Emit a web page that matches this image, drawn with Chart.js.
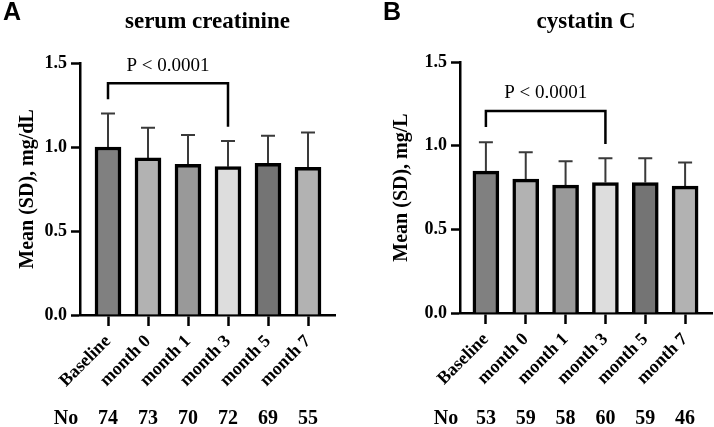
<!DOCTYPE html>
<html>
<head>
<meta charset="utf-8">
<script src="https://cdn.jsdelivr.net/npm/chart.js@4.4.0/dist/chart.umd.min.js"></script>
<style>
  body { margin: 0; background: #fff; }
  #wrap { position: relative; width: 714px; height: 427px; }
  canvas { position: absolute; top: 0; }
</style>
</head>
<body>
<div id="wrap">
  <canvas id="chartA" width="357" height="427" style="left:0"></canvas>
  <canvas id="chartB" width="357" height="427" style="left:357px"></canvas>
</div>
<script>
// --- data ---
const timepoints = ['Baseline', 'month 0', 'month 1', 'month 3', 'month 5', 'month 7'];
const barColors = ['#808080', '#b2b2b2', '#999999', '#dddddd', '#747474', '#b2b2b2'];

// serum creatinine, mg/dL
const creatMean = [1.00, 0.935, 0.897, 0.883, 0.903, 0.879];
const creatSD = [0.20, 0.18, 0.174, 0.153, 0.164, 0.208];
const creatN = [74, 73, 70, 72, 69, 55];

// cystatin C, mg/L
const cysMean = [0.848, 0.80, 0.764, 0.78, 0.78, 0.758];
const cysSD = [0.172, 0.16, 0.143, 0.145, 0.145, 0.142];
const cysN = [53, 59, 58, 60, 59, 46];

const yTicks = [0, 0.5, 1.0, 1.5];

const SERIF = '"Liberation Serif", "Times New Roman", serif';
const SANS = '"Liberation Sans", Arial, sans-serif';

// draws error bars, bracket, titles and the "No" row for one panel
function makeDecor(p) {
  return {
    id: 'decor' + p.letter,
    beforeDatasetsDraw(chart) {
      const { ctx, scales: { x, y } } = chart;
      ctx.save();
      ctx.strokeStyle = '#3a3a3a';
      ctx.lineWidth = 2;
      p.mean.forEach((m, i) => {
        const px = x.getPixelForValue(i);
        const y0 = y.getPixelForValue(m);
        const y1 = y.getPixelForValue(m + p.sd[i]);
        ctx.beginPath();
        ctx.moveTo(px, y0);
        ctx.lineTo(px, y1);
        ctx.moveTo(px - 7, y1);
        ctx.lineTo(px + 7, y1);
        ctx.stroke();
      });
      ctx.restore();
    },
    afterDraw(chart) {
      const { ctx, chartArea, scales: { x, y } } = chart;
      ctx.save();
      ctx.fillStyle = '#000';
      ctx.textBaseline = 'alphabetic';

      // panel letter + title
      ctx.textAlign = 'left';
      ctx.font = 'bold 25px ' + SANS;
      ctx.fillText(p.letter, chartArea.left - 77, 20);
      ctx.textAlign = 'center';
      ctx.font = 'bold 23px ' + SERIF;
      ctx.fillText(p.title, (chartArea.left + chartArea.right) / 2, 28);

      // significance bracket
      const b = p.bracket;
      const xa = x.getPixelForValue(b.from), xb = x.getPixelForValue(b.to);
      ctx.strokeStyle = '#000';
      ctx.lineWidth = 2.5;
      ctx.beginPath();
      ctx.moveTo(xa, y.getPixelForValue(b.leftEnd));
      ctx.lineTo(xa, y.getPixelForValue(b.top));
      ctx.lineTo(xb, y.getPixelForValue(b.top));
      ctx.lineTo(xb, y.getPixelForValue(b.rightEnd));
      ctx.stroke();
      ctx.font = '19px ' + SERIF;
      ctx.fillText(b.label, (xa + xb) / 2, y.getPixelForValue(b.labelY));

      // sample size row
      ctx.font = 'bold 20px ' + SERIF;
      const rowY = chart.height - 3;
      ctx.fillText('No', chartArea.left - 14, rowY);
      p.n.forEach((n, i) => ctx.fillText(String(n), x.getPixelForValue(i), rowY));
      ctx.restore();
    }
  };
}

function makePanel(id, p) {
  new Chart(document.getElementById(id), {
    type: 'bar',
    data: {
      datasets: [{
        data: p.mean.map((v, i) => ({ x: i, y: v })),
        backgroundColor: barColors,
        borderColor: '#000',
        borderWidth: 3.5,
        barThickness: 26
      }]
    },
    options: {
      responsive: false,
      animation: false,
      layout: { padding: { top: p.top, right: p.right, left: 0, bottom: 0 } },
      plugins: { legend: { display: false }, tooltip: { enabled: false } },
      scales: {
        x: {
          type: 'linear',
          offset: false,
          min: p.xMin,
          max: p.xMax,
          afterBuildTicks: s => { s.ticks = timepoints.map((t, i) => ({ value: i })); },
          afterFit: s => {
            s.height = p.xHeight;
            s.paddingLeft = 0;
            s.paddingRight = 0;
          },
          ticks: {
            autoSkip: false,
            maxRotation: 45,
            minRotation: 45,
            padding: 5,
            color: '#000',
            font: { family: SERIF, size: 18, weight: 'bold' },
            callback: v => timepoints[v]
          },
          grid: { offset: false, drawOnChartArea: false, tickLength: 11, tickColor: '#000', tickWidth: 2.5 },
          border: { color: '#000', width: 2.5 }
        },
        y: {
          min: 0,
          max: 1.5,
          afterBuildTicks: s => { s.ticks = yTicks.map(v => ({ value: v })); },
          afterFit: s => {
            s.width = p.yWidth;
            s.paddingTop = 0;
            s.paddingBottom = 0;
          },
          ticks: {
            padding: 4,
            color: '#000',
            font: { family: SERIF, size: 18, weight: 'bold' },
            callback: v => v.toFixed(1)
          },
          grid: { drawOnChartArea: false, tickLength: 9, tickColor: '#000', tickWidth: 2.5 },
          border: { color: '#000', width: 2.5 },
          title: {
            display: true,
            text: p.yTitle,
            color: '#000',
            padding: { top: p.yTitlePad, bottom: 0 },
            font: { family: SERIF, size: 20, weight: 'bold' }
          }
        }
      }
    },
    plugins: [makeDecor(p)]
  });
}

makePanel('chartA', {
  letter: 'A', title: 'serum creatinine', yTitle: 'Mean (SD), mg/dL',
  mean: creatMean, sd: creatSD, n: creatN,
  bracket: { from: 0, to: 3, top: 1.379, leftEnd: 1.284, rightEnd: 1.121, label: 'P < 0.0001', labelY: 1.452 },
  top: 63, right: 22, xHeight: 112, yWidth: 80, yTitlePad: 16, xMin: -0.7, xMax: 5.675
});

makePanel('chartB', {
  letter: 'B', title: 'cystatin C', yTitle: 'Mean (SD), mg/L',
  mean: cysMean, sd: cysSD, n: cysN,
  bracket: { from: 0, to: 3, top: 1.207, leftEnd: 1.112, rightEnd: 1.01, label: 'P < 0.0001', labelY: 1.285 },
  top: 62, right: 2, xHeight: 114, yWidth: 103, yTitlePad: 33, xMin: -0.65, xMax: 5.675
});
</script>
</body>
</html>
